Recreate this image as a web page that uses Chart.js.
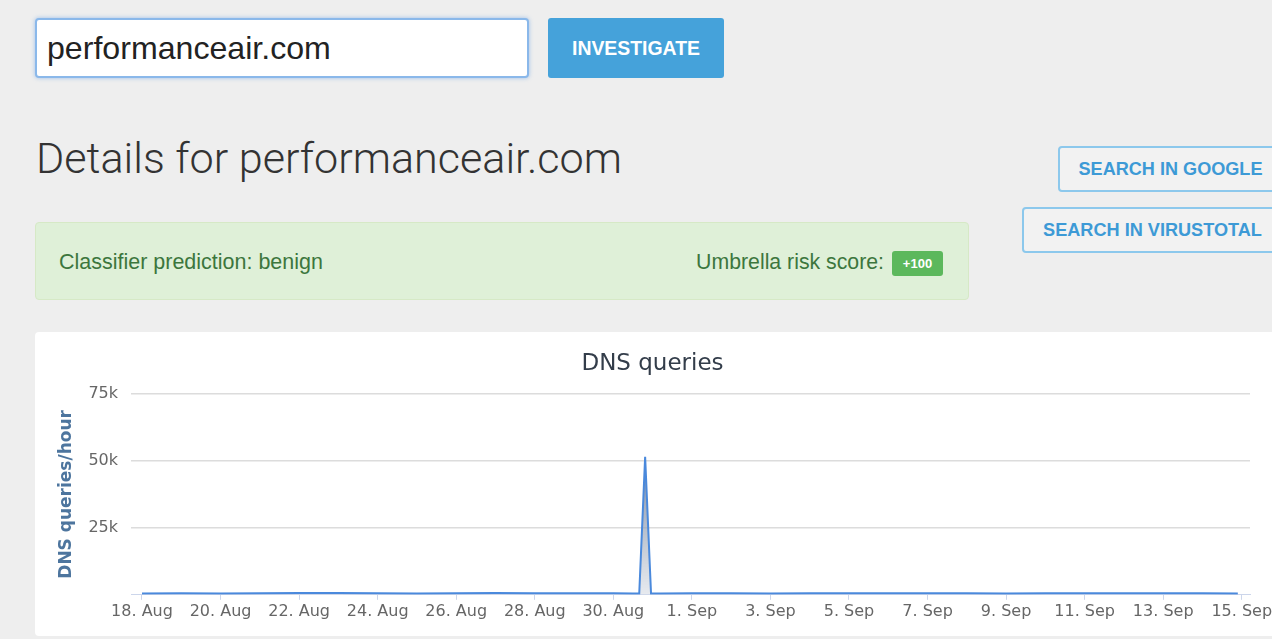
<!DOCTYPE html>
<html>
<head>
<meta charset="utf-8">
<script src="https://cdn.jsdelivr.net/npm/chart.js@4.4.1/dist/chart.umd.min.js"></script>
<style>
  html, body { margin:0; padding:0; }
  body { width:1272px; height:639px; background:#eeeeee; overflow:hidden; position:relative; font-family:"Liberation Sans", Arial, sans-serif; }
  .abs { position:absolute; }
  .fit { display:inline-block; white-space:nowrap; }
  #search { left:35px; top:18px; width:494px; height:60px; box-sizing:border-box; background:#fff; border:2px solid #8ab8ea; border-radius:4px; box-shadow:0 0 4px rgba(102,160,230,0.6); display:flex; align-items:center; padding-left:10px; color:#222; font-size:32px; }
  #investigate { left:548px; top:18px; width:176px; height:60px; background:#45a2da; border-radius:3px; display:flex; align-items:center; justify-content:center; color:#fff; font-weight:bold; font-size:17px; }
  #title { left:36px; top:137px; font-family:Roboto, sans-serif; font-weight:300; font-size:43px; line-height:43px; color:#333; }
  .obtn { box-sizing:border-box; border:2px solid #8cc8ec; border-radius:4px; display:flex; align-items:center; justify-content:center; color:#3d9ad6; font-weight:bold; font-size:17px; background:#f2f2f2; }
  #google { left:1058px; top:146px; width:225px; height:46px; }
  #virus { left:1022px; top:207px; width:261px; height:46px; }
  #alert { left:35px; top:222px; width:934px; height:78px; box-sizing:border-box; background:#dff0d8; border:1px solid #d6e9c6; border-radius:4px; color:#3c763d; font-size:20px; }
  #cls { position:absolute; left:23px; top:1px; height:76px; display:flex; align-items:center; }
  #umb { position:absolute; right:84px; top:1px; height:76px; display:flex; align-items:center; }
  #badge { left:892px; top:251px; width:51px; height:25px; background:#5cb85c; border-radius:3px; color:#fff; font-weight:bold; font-size:13px; display:flex; align-items:center; justify-content:center; }
  #card { left:35px; top:332px; width:1260px; height:304px; background:#fff; border-radius:4px; }
  #chart { position:absolute; left:35px; top:332px; }
</style>
</head>
<body>
<div id="search" class="abs"><span class="fit" data-w="284">performanceair.com</span></div>
<div id="investigate" class="abs"><span class="fit" data-w="128">INVESTIGATE</span></div>
<div id="title" class="abs"><span class="fit" data-w="586">Details for performanceair.com</span></div>
<div id="google" class="abs obtn"><span class="fit" data-w="184">SEARCH IN GOOGLE</span></div>
<div id="virus" class="abs obtn"><span class="fit" data-w="219">SEARCH IN VIRUSTOTAL</span></div>
<div id="alert" class="abs">
  <div id="cls"><span class="fit" data-w="264">Classifier prediction: benign</span></div>
  <div id="umb"><span class="fit" data-w="188">Umbrella risk score:</span></div>
</div>
<div id="badge" class="abs"><span>+100</span></div>
<div id="card" class="abs"></div>
<canvas id="chart" width="1265" height="304"></canvas>
<script>
// ---- data ----
const dayOffsets = [0,1,2,3,4,5,6,7,8,9,10,11,12,12.5,12.66,12.81,12.96,13.2,14,15,16,17,18,19,20,21,22,23,24,25,26,27,27.9];
const dnsQueries = [520,610,480,550,700,640,590,530,620,680,560,600,540,500,520,51500,480,530,570,610,490,560,600,540,580,620,500,560,590,610,540,570,530];
const xTickDays = [0,2,4,6,8,10,12,14,16,18,20,22,24,26,28];
const xTickLabels = ['18. Aug','20. Aug','22. Aug','24. Aug','26. Aug','28. Aug','30. Aug','1. Sep','3. Sep','5. Sep','7. Sep','9. Sep','11. Sep','13. Sep','15. Sep'];
const yTicks = [0,25000,50000,75000];
const yTickLabels = ['','25k','50k','75k'];

// fit UI text widths
document.querySelectorAll('.fit').forEach(el => {
  const target = parseFloat(el.dataset.w);
  const fs = parseFloat(getComputedStyle(el).fontSize);
  const w = el.getBoundingClientRect().width;
  if (w > 0) el.style.fontSize = (fs * target / w).toFixed(2) + 'px';
});

const points = dayOffsets.map((d, i) => ({ x: d, y: dnsQueries[i] }));

let fillGradient = null;
const gradientPlugin = {
  id: 'gradientFill',
  beforeDatasetsDraw(chart) {
    const a = chart.chartArea;
    const g = chart.ctx.createLinearGradient(0, a.top, 0, a.bottom);
    g.addColorStop(0, 'rgba(55,110,195,0.95)');
    g.addColorStop(0.45, 'rgba(110,125,150,0.75)');
    g.addColorStop(1, 'rgba(215,220,228,0.6)');
    chart.data.datasets[0].backgroundColor = g;
    const meta = chart.getDatasetMeta(0);
    if (meta.dataset) meta.dataset.options.backgroundColor = g;
  }
};

new Chart(document.getElementById('chart'), {
  type: 'line',
  plugins: [gradientPlugin],
  data: {
    datasets: [{
      data: points,
      borderColor: '#4a89dc',
      borderWidth: 2,
      pointRadius: 0,
      tension: 0,
      fill: 'origin',
      backgroundColor: 'rgba(110,125,150,0.7)'
    }]
  },
  options: {
    responsive: false,
    animation: false,
    devicePixelRatio: 1,
    layout: { padding: { left: 20, right: 50, top: 0, bottom: 13 } },
    plugins: {
      legend: { display: false },
      tooltip: { enabled: false },
      title: {
        display: true,
        text: 'DNS queries',
        color: '#333d4a',
        font: { family: 'DejaVu Sans', size: 23, weight: 'normal' },
        padding: { top: 18, bottom: 16.4 }
      }
    },
    scales: {
      x: {
        type: 'linear',
        min: -0.28,
        max: 28.21,
        afterBuildTicks: (s) => { s.ticks = xTickDays.map(v => ({ value: v })); },
        ticks: {
          autoSkip: false,
          maxRotation: 0,
          padding: 2,
          color: '#666666',
          font: { family: 'DejaVu Sans', size: 16 },
          callback: (v) => xTickLabels[xTickDays.indexOf(v)]
        },
        grid: { drawOnChartArea: false, drawTicks: true, tickLength: 5, color: '#ccd6eb' },
        border: { display: true, color: '#ccd6eb', width: 1 }
      },
      y: {
        min: 0,
        max: 75000,
        afterBuildTicks: (s) => { s.ticks = yTicks.map(v => ({ value: v })); },
        afterFit: (s) => { s.width = 76; },
        ticks: {
          padding: 13,
          color: '#666666',
          font: { family: 'DejaVu Sans', size: 16 },
          callback: (v) => yTickLabels[yTicks.indexOf(v)]
        },
        grid: {
          drawTicks: false,
          lineWidth: 1.5,
          color: (c) => (c.tick && c.tick.value === 0) ? 'rgba(0,0,0,0)' : '#dcdcdc'
        },
        border: { display: false },
        title: {
          display: true,
          text: 'DNS queries/hour',
          color: '#4d759e',
          font: { family: 'DejaVu Sans', size: 17, weight: 'bold' },
          padding: { top: 1, bottom: 0 }
        }
      }
    }
  }
});
</script>
</body>
</html>
